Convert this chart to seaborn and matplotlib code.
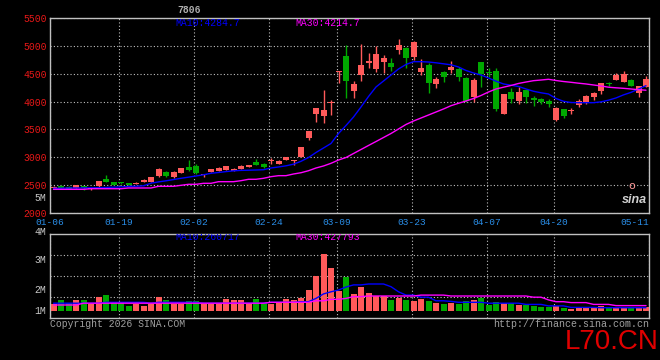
import numpy as np
import pandas as pd
import seaborn as sns
import matplotlib
matplotlib.use("Agg")
import matplotlib.pyplot as plt
from matplotlib.transforms import blended_transform_factory

# datos (80 sesiones, 01-06 .. 05-11)
opens = [2449, 2490, 2472, 2449, 2485, 2428, 2479, 2610, 2556, 2550,
         2538, 2520, 2556, 2562, 2664, 2736, 2640, 2724, 2826, 2844,
         2680, 2736, 2760, 2777, 2760, 2790, 2831, 2921, 2885, 2925,
         2880, 2957, 2928, 3010, 3352, 3782, 3747, 3980, 4531, 4818,
         4195, 4477, 4698, 4580, 4710, 4692, 4926, 4967, 4806, 4536,
         4657, 4316, 4531, 4567, 4585, 4429, 4088, 4710, 4530, 4549,
         3777, 4172, 4005, 4208, 4059, 4041, 4016, 3669, 3867, 3826,
         3933, 3969, 4082, 4195, 4334, 4393, 4352, 4387, 4149, 4267]
closes = [2472, 2443, 2436, 2503, 2449, 2432, 2574, 2556, 2508, 2530,
          2497, 2544, 2598, 2646, 2790, 2664, 2736, 2808, 2766, 2724,
          2685, 2784, 2813, 2838, 2795, 2849, 2867, 2862, 2831, 2930,
          2939, 3000, 2957, 3185, 3472, 3885, 3849, 3998, 4549, 4375,
          4316, 4657, 4723, 4854, 4782, 4620, 5016, 4782, 5069, 4603,
          4339, 4405, 4447, 4621, 4447, 4010, 4382, 4500, 4520, 3867,
          4136, 4041, 4172, 4088, 4028, 3998, 3957, 3890, 3741, 3843,
          4010, 4100, 4159, 4334, 4322, 4477, 4495, 4285, 4280, 4405]
highs = [2480, 2500, 2478, 2510, 2490, 2440, 2580, 2682, 2560, 2560,
         2540, 2550, 2605, 2650, 2800, 2745, 2745, 2815, 2951, 2880,
         2700, 2790, 2825, 2850, 2805, 2855, 2870, 2964, 2900, 2987,
         2945, 3010, 2960, 3190, 3475, 3890, 4208, 4028, 4555, 5016,
         4370, 5034, 4877, 4998, 4836, 4782, 5123, 4975, 5087, 4764,
         4687, 4447, 4549, 4728, 4626, 4450, 4429, 4715, 4603, 4603,
         4140, 4244, 4262, 4215, 4100, 4070, 4046, 3908, 3870, 3890,
         4046, 4118, 4177, 4340, 4352, 4518, 4549, 4400, 4285, 4459]
lows = [2440, 2430, 2430, 2445, 2405, 2410, 2475, 2550, 2505, 2525,
        2495, 2515, 2550, 2560, 2655, 2655, 2620, 2720, 2760, 2700,
        2650, 2730, 2750, 2770, 2755, 2785, 2830, 2855, 2808, 2880,
        2875, 2950, 2860, 3005, 3310, 3640, 3620, 3760, 4328, 4059,
        4059, 4369, 4597, 4536, 4518, 4554, 4854, 4597, 4746, 4477,
        4149, 4249, 4357, 4508, 4369, 4000, 3998, 4267, 4447, 3831,
        3770, 3980, 3962, 3980, 3926, 3951, 3903, 3651, 3705, 3777,
        3897, 3951, 4028, 4141, 4285, 4390, 4350, 4280, 4082, 4260]

ma10 = [2443, 2445, 2449, 2449, 2451, 2452, 2454, 2458, 2463, 2470,
        2476, 2481, 2488, 2535, 2558, 2578, 2600, 2623, 2643, 2664,
        2686, 2713, 2727, 2743, 2757, 2765, 2768, 2772, 2777, 2808,
        2826, 2847, 2876, 2928, 2996, 3086, 3167, 3248, 3427, 3571,
        3723, 3903, 4091, 4262, 4369, 4477, 4585, 4666, 4716, 4716,
        4710, 4696, 4678, 4660, 4621, 4558, 4513, 4477, 4423, 4366,
        4316, 4294, 4271, 4226, 4185, 4158, 4136, 4055, 4005, 3983,
        3980, 3980, 3980, 3995, 4025, 4065, 4120, 4165, 4225, 4285]
ma30 = [2425, 2425, 2425, 2425, 2425, 2436, 2436, 2436, 2436, 2436,
        2449, 2449, 2449, 2449, 2479, 2479, 2479, 2497, 2515, 2515,
        2533, 2533, 2562, 2562, 2562, 2580, 2605, 2605, 2623, 2652,
        2670, 2670, 2700, 2723, 2759, 2808, 2844, 2892, 2951, 2996,
        3068, 3140, 3212, 3283, 3355, 3427, 3508, 3589, 3651, 3705,
        3759, 3813, 3867, 3926, 3969, 4010, 4055, 4109, 4172, 4226,
        4258, 4289, 4325, 4351, 4375, 4387, 4400, 4378, 4360, 4346,
        4330, 4316, 4298, 4280, 4258, 4247, 4238, 4226, 4213, 4204]

# volumen en millones
vol = [1.52, 1.67, 1.58, 1.67, 1.67, 1.52, 1.78, 1.83, 1.58, 1.58,
       1.47, 1.52, 1.48, 1.52, 1.78, 1.67, 1.52, 1.52, 1.63, 1.63,
       1.52, 1.52, 1.52, 1.71, 1.67, 1.67, 1.56, 1.71, 1.56, 1.52,
       1.59, 1.71, 1.67, 1.74, 2.00, 2.47, 3.20, 2.73, 1.97, 2.44,
       1.87, 2.11, 1.91, 1.80, 1.80, 1.67, 1.74, 1.67, 1.64, 1.70,
       1.64, 1.58, 1.53, 1.56, 1.52, 1.64, 1.67, 1.74, 1.50, 1.61,
       1.56, 1.56, 1.50, 1.50, 1.48, 1.44, 1.44, 1.47, 1.41, 1.37,
       1.42, 1.44, 1.44, 1.47, 1.41, 1.44, 1.39, 1.44, 1.41, 1.44]
vol_ma10 = [1.56, 1.56, 1.56, 1.56, 1.56, 1.56, 1.56, 1.59, 1.59, 1.59,
            1.59, 1.59, 1.59, 1.56, 1.59, 1.59, 1.59, 1.59, 1.59, 1.59,
            1.56, 1.56, 1.56, 1.56, 1.56, 1.56, 1.56, 1.56, 1.56, 1.59,
            1.59, 1.59, 1.59, 1.61, 1.61, 1.72, 1.87, 1.94, 2.00, 2.10,
            2.17, 2.17, 2.20, 2.20, 2.20, 2.11, 1.94, 1.83, 1.83, 1.76,
            1.76, 1.64, 1.64, 1.62, 1.59, 1.59, 1.59, 1.59, 1.56, 1.56,
            1.56, 1.56, 1.56, 1.52, 1.52, 1.52, 1.47, 1.47, 1.47, 1.42,
            1.42, 1.42, 1.42, 1.41, 1.41, 1.41, 1.41, 1.41, 1.41, 1.41]
vol_ma30 = [1.50, 1.50, 1.50, 1.50, 1.56, 1.56, 1.56, 1.56, 1.56, 1.56,
            1.56, 1.56, 1.56, 1.56, 1.56, 1.56, 1.56, 1.56, 1.56, 1.56,
            1.56, 1.56, 1.56, 1.56, 1.56, 1.56, 1.56, 1.56, 1.56, 1.59,
            1.59, 1.59, 1.59, 1.59, 1.59, 1.64, 1.64, 1.69, 1.69, 1.72,
            1.78, 1.78, 1.80, 1.80, 1.80, 1.80, 1.80, 1.80, 1.80, 1.83,
            1.83, 1.83, 1.83, 1.80, 1.80, 1.80, 1.80, 1.80, 1.80, 1.80,
            1.80, 1.80, 1.80, 1.80, 1.76, 1.76, 1.67, 1.61, 1.61, 1.58,
            1.58, 1.58, 1.52, 1.52, 1.52, 1.48, 1.48, 1.48, 1.48, 1.48]

date_labels = ['01-06', '01-19', '02-02', '02-24', '03-09', '03-23', '04-07', '04-20', '05-11']
date_pos = [0, 9, 19, 29, 38, 48, 58, 67, 79]
price_ticks = [2000, 2500, 3000, 3500, 4000, 4500, 5000, 5500]
vol_labels = ['4M', '3M', '2M', '1M']
vol_label_pos = [3.92, 3.0, 2.0, 1.3]

RED = '#ff5a5a'
GREEN = '#00a800'
GRIDC = '#c0c0c0'

sns.set_theme(style='dark', rc={'axes.facecolor': 'black', 'figure.facecolor': 'black',
                                'savefig.facecolor': 'black'})
plt.rcParams['font.family'] = ['Liberation Mono', 'DejaVu Sans Mono']

df = pd.DataFrame({'i': np.arange(len(opens)), 'o': opens, 'c': closes, 'h': highs, 'l': lows,
                   'ma10': ma10, 'ma30': ma30, 'v': vol, 'vma10': vol_ma10, 'vma30': vol_ma30})
df['col'] = np.where(df['c'] >= df['o'], RED, GREEN)

fig = plt.figure(figsize=(6.6, 3.6), dpi=100)
ax = fig.add_axes([50/660, 1-213/360, 599/660, 195/360])
axv = fig.add_axes([50/660, 1-318/360, 599/660, 84/360])

# velas
ax.vlines(df['i'], df['l'], df['h'], colors=df['col'], lw=1, zorder=3)
body = np.maximum((df['c'] - df['o']).abs(), 18)
ax.bar(df['i'], body, bottom=np.minimum(df['o'], df['c']), width=0.8,
       color=df['col'], linewidth=0, zorder=3)
sns.lineplot(data=df, x='i', y='ma10', ax=ax, color='#0000ff', lw=1, zorder=4)
sns.lineplot(data=df, x='i', y='ma30', ax=ax, color='#ff00ff', lw=1, zorder=4)

# volumen
vbase = 1.3
axv.bar(df['i'], df['v'] - vbase, bottom=vbase, width=0.8, color=df['col'], linewidth=0, zorder=3)
sns.lineplot(data=df, x='i', y='vma10', ax=axv, color='#0000ff', lw=1, zorder=4)
sns.lineplot(data=df, x='i', y='vma30', ax=axv, color='#ff00ff', lw=1, zorder=4)

xpos = [-0.47] + [p - 0.25 for p in date_pos[1:-1]] + [79.4]
for a in (ax, axv):
    a.set_xlim(-0.47, 79.4)
    a.set_xlabel('')
    a.set_ylabel('')
    a.set_xticks(xpos)
    a.grid(True, color=GRIDC, ls=(0, (1, 2)), lw=0.8, zorder=1)
    a.tick_params(length=0)
    for sp in a.spines.values():
        sp.set_visible(True)
        sp.set_color(GRIDC)
        sp.set_linewidth(1)

ax.set_ylim(2000, 5500)
ax.set_yticks(price_ticks)
ax.set_yticklabels([str(t) for t in price_ticks], color='#e81818', fontsize=7)
ax.tick_params(axis='y', pad=2)
ax.set_xticklabels(date_labels, color='#2a8ee8', fontsize=6.8)
ax.tick_params(axis='x', pad=3.5)
ax.get_xticklabels()[-1].set_ha('right')

vlo, vhi = 1.0667, 3.8667
axv.set_ylim(vlo, vhi)
axv.set_yticks([vlo + (vhi - vlo) * k / 4 for k in (1, 2, 3)])
axv.set_yticklabels([])
axv.set_xticklabels([])
tr = blended_transform_factory(axv.transAxes, axv.transData)
for lab, p in zip(vol_labels, vol_label_pos):
    axv.text(-0.006, p, lab, transform=tr, ha='right', va='center', color='#c8c8c8',
             fontsize=7, clip_on=False)
ax.text(-0.006, 0.075, '5M', transform=ax.transAxes, ha='right', va='center',
        color='#c8c8c8', fontsize=7)

# textos
fig.text(177/660, 1-10/360, '7806', color='#b0b0b0', fontsize=7, va='center', fontweight='bold')
fig.text(175/660, 1-23.5/360, 'MA10:4284.7', color='#0000ff', fontsize=7, va='center')
fig.text(295/660, 1-23.5/360, 'MA30:4214.7', color='#ff00ff', fontsize=7, va='center')
axv.text((175-50)/599, (318-237.5)/84, 'MA10:260717', transform=axv.transAxes,
         color='#0000ff', fontsize=7, va='center', clip_on=True)
axv.text((295-50)/599, (318-237.5)/84, 'MA30:427793', transform=axv.transAxes,
         color='#ff00ff', fontsize=7, va='center', clip_on=True)
ax.text(0.997, 0.035, 'sina', transform=ax.transAxes, ha='right', va='bottom', color='#d0d0d0',
        fontsize=9, fontstyle='italic', fontweight='bold', family='Liberation Sans', zorder=5)
ax.text(0.972, 0.115, 'o', transform=ax.transAxes, ha='center', va='bottom', color='#ff9a9a',
        fontsize=8, family='DejaVu Sans', zorder=5)
fig.text(50/660, 1-324/360, 'Copyright 2026 SINA.COM', color='#a0a0a0', fontsize=7, va='center')
fig.text(649/660, 1-324/360, 'http://finance.sina.com.cn', color='#a0a0a0', fontsize=7.2,
         va='center', ha='right')
fig.text(565/660, 1-349/360, 'L70.CN', color='#e00000', fontsize=20, family='Liberation Sans',
         va='baseline')

fig.savefig('out.png', dpi=100, facecolor='black')
